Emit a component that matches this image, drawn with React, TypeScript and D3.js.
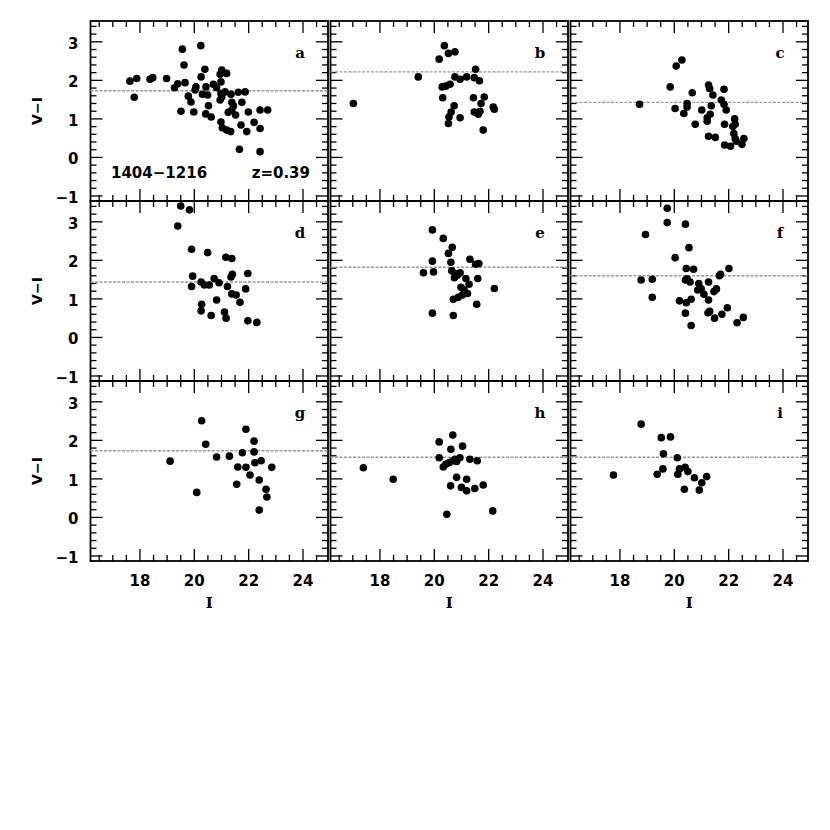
import * as d3 from "d3";

// I, V-I pairs
const ptsA: [number, number][] = [
  [19.56, 2.81], [20.24, 2.9], [19.62, 2.4], [20.39, 2.29], [20.25, 2.09], [21.01, 2.27],
  [21.19, 2.18], [20.95, 2.16], [17.63, 1.98], [17.88, 2.05], [18.37, 2.03], [18.47, 2.07],
  [18.98, 2.05], [19.39, 1.91], [19.27, 1.81], [19.66, 1.94], [17.79, 1.56], [20.03, 1.75],
  [20.06, 1.83], [20.43, 1.83], [20.7, 1.9], [20.82, 1.81], [20.98, 1.96], [20.3, 1.64],
  [20.49, 1.62], [20.98, 1.66], [21.13, 1.7], [21.35, 1.64], [21.62, 1.69], [21.87, 1.7],
  [19.78, 1.59], [19.88, 1.44], [20.95, 1.49], [21.01, 1.57], [21.38, 1.43], [21.44, 1.34],
  [21.75, 1.43], [20.52, 1.34], [21.38, 1.23], [21.25, 1.17], [21.52, 1.1], [21.99, 1.18],
  [22.42, 1.23], [22.7, 1.23], [19.51, 1.2], [19.98, 1.18], [20.42, 1.13], [20.62, 1.05],
  [20.98, 0.92], [21.03, 0.77], [21.19, 0.71], [21.34, 0.67], [21.72, 0.84], [21.93, 0.67],
  [22.2, 0.91], [22.42, 0.75], [21.66, 0.21], [22.42, 0.15],
];
const ptsB: [number, number][] = [
  [17.02, 1.4], [19.41, 2.09], [20.37, 2.9], [20.52, 2.7], [20.76, 2.74], [20.18, 2.55],
  [21.52, 2.29], [20.76, 2.09], [20.95, 2.03], [21.19, 2.09], [21.47, 2.07], [21.66, 1.99],
  [20.29, 1.83], [20.42, 1.85], [20.58, 1.9], [20.31, 1.55], [21.44, 1.55], [21.84, 1.57],
  [21.72, 1.4], [20.73, 1.34], [20.62, 1.18], [20.54, 1.05], [20.52, 0.88], [20.95, 1.03],
  [21.47, 1.18], [21.62, 1.12], [21.68, 1.2], [22.17, 1.31], [22.21, 1.25], [21.8, 0.71],
];
const ptsC: [number, number][] = [
  [18.72, 1.38], [20.28, 2.53], [20.07, 2.37], [19.85, 1.83], [20.66, 1.68], [21.26, 1.88],
  [21.3, 1.79], [21.42, 1.62], [21.83, 1.77], [21.73, 1.49], [21.83, 1.38], [21.91, 1.23],
  [20.03, 1.27], [20.47, 1.4], [20.47, 1.31], [20.35, 1.14], [21.01, 1.23], [21.36, 1.34],
  [21.32, 1.12], [21.21, 1.03], [21.21, 0.94], [20.77, 0.86], [21.85, 0.86], [22.22, 1.0],
  [22.24, 0.86], [22.15, 0.8], [22.19, 0.62], [21.26, 0.55], [21.51, 0.52], [22.24, 0.49],
  [22.56, 0.49], [21.85, 0.32], [22.07, 0.29], [22.49, 0.34], [22.28, 0.42],
];
const ptsD: [number, number][] = [
  [19.5, 3.41], [19.82, 3.31], [19.39, 2.89], [19.9, 2.29], [20.49, 2.2], [21.16, 2.08],
  [21.38, 2.05], [21.97, 1.66], [21.4, 1.64], [21.35, 1.57], [19.94, 1.59], [20.25, 1.44],
  [20.37, 1.36], [20.55, 1.36], [20.73, 1.53], [20.91, 1.42], [21.22, 1.32], [19.9, 1.32],
  [21.89, 1.26], [21.38, 1.13], [21.54, 1.1], [21.68, 0.91], [20.82, 0.97], [20.27, 0.86],
  [20.25, 0.69], [20.62, 0.57], [21.11, 0.66], [21.17, 0.5], [21.97, 0.43], [22.3, 0.39],
];
const ptsE: [number, number][] = [
  [19.93, 2.79], [20.33, 2.57], [20.66, 2.34], [20.52, 2.18], [19.93, 1.98], [20.61, 1.95],
  [21.31, 2.03], [21.52, 1.9], [21.64, 1.92], [19.6, 1.68], [19.97, 1.7], [20.64, 1.73],
  [20.76, 1.66], [20.95, 1.68], [20.74, 1.55], [20.86, 1.62], [21.16, 1.53], [21.6, 1.53],
  [21.28, 1.38], [20.98, 1.3], [21.1, 1.23], [21.22, 1.14], [22.21, 1.27], [20.7, 0.99],
  [20.88, 1.04], [21.03, 1.1], [21.56, 0.86], [19.93, 0.63], [20.7, 0.57],
];
const ptsF: [number, number][] = [
  [19.74, 3.35], [19.74, 2.98], [20.41, 2.94], [18.94, 2.67], [20.54, 2.33], [20.03, 2.07],
  [20.44, 1.79], [20.71, 1.77], [22.01, 1.79], [21.7, 1.64], [21.66, 1.6], [18.78, 1.49],
  [19.19, 1.51], [20.41, 1.49], [20.47, 1.52], [20.58, 1.44], [20.9, 1.4], [21.26, 1.44],
  [20.86, 1.23], [20.99, 1.26], [21.09, 1.12], [21.46, 1.19], [21.55, 1.26], [19.19, 1.04],
  [20.19, 0.95], [20.44, 0.9], [20.62, 0.99], [21.26, 0.97], [21.3, 0.68], [21.24, 0.64],
  [21.95, 0.77], [21.75, 0.6], [21.48, 0.5], [20.41, 0.63], [20.62, 0.31], [22.31, 0.38],
  [22.54, 0.52],
];
const ptsG: [number, number][] = [
  [20.27, 2.51], [21.9, 2.29], [22.2, 1.98], [20.42, 1.9], [21.77, 1.68], [22.2, 1.7],
  [19.11, 1.46], [20.82, 1.57], [21.29, 1.59], [22.23, 1.42], [22.46, 1.47], [21.6, 1.31],
  [21.9, 1.3], [22.85, 1.3], [22.05, 1.1], [22.39, 0.97], [21.56, 0.86], [22.64, 0.73],
  [22.67, 0.53], [20.09, 0.65], [22.39, 0.19],
];
const ptsH: [number, number][] = [
  [17.39, 1.29], [18.49, 0.99], [20.68, 2.14], [20.18, 1.96], [21.04, 1.85], [20.61, 1.77],
  [20.18, 1.55], [21.31, 1.51], [21.58, 1.47], [20.94, 1.55], [20.76, 1.51], [20.68, 1.47],
  [20.82, 1.45], [20.54, 1.42], [20.42, 1.38], [20.33, 1.31], [20.82, 1.04], [21.19, 0.99],
  [20.6, 0.82], [21.0, 0.78], [21.19, 0.69], [21.49, 0.75], [21.8, 0.84], [20.46, 0.08],
  [22.15, 0.17],
];
const ptsI: [number, number][] = [
  [17.76, 1.1], [18.78, 2.42], [19.52, 2.07], [19.86, 2.09], [19.6, 1.65], [20.11, 1.55],
  [19.58, 1.26], [19.37, 1.12], [20.19, 1.26], [20.4, 1.3], [20.5, 1.19], [20.13, 1.12],
  [20.74, 1.03], [21.19, 1.06], [21.01, 0.9], [20.37, 0.73], [20.92, 0.71],
];

const panelPoints = [ptsA, ptsB, ptsC, ptsD, ptsE, ptsF, ptsG, ptsH, ptsI];
const meanLines = [1.73, 2.22, 1.43, 1.44, 1.82, 1.6, 1.73, 1.56, 1.56];
const panelLetters = ["a", "b", "c", "d", "e", "f", "g", "h", "i"];
const xTickLabels = [18, 20, 22, 24];
const yTickLabels = [3, 2, 1, 0, -1];
const xDomain: [number, number] = [16.18, 24.92];
const yDomain: [number, number] = [-1.13, 3.54];

const colLefts = [90.5, 330.5, 570.5];
const rowTops = [21, 201, 381];
const panelW = 237.5;
const panelH = 180;

const sansFont = "'DejaVu Sans', sans-serif";
const serifFont = "'DejaVu Serif', serif";

function Panel({ idx }: { idx: number }) {
  const col = idx % 3;
  const row = Math.floor(idx / 3);
  const x0 = colLefts[col];
  const y0 = rowTops[row];
  const x = d3.scaleLinear().domain(xDomain).range([x0, x0 + panelW]);
  const y = d3.scaleLinear().domain(yDomain).range([y0 + panelH, y0]);

  const xTicks = d3.range(16.5, 24.9, 0.5);
  const yTicks = d3.range(-1, 3.55, 0.2).map((v) => Math.round(v * 10) / 10);
  const major = 12;
  const minor = 6;

  return (
    <g>
      {/* x ticks on top and bottom */}
      {xTicks.map((t) => {
        const len = t % 2 === 0 ? major : minor;
        const px = x(t);
        return (
          <g key={"x" + t} stroke="#000" strokeWidth={1.3}>
            <line x1={px} x2={px} y1={y0 + panelH} y2={y0 + panelH - len} />
            <line x1={px} x2={px} y1={y0} y2={y0 + len} />
          </g>
        );
      })}
      {/* y ticks left and right */}
      {yTicks.map((t) => {
        const len = Number.isInteger(t) ? major : minor;
        const py = y(t);
        return (
          <g key={"y" + t} stroke="#000" strokeWidth={1.3}>
            <line x1={x0} x2={x0 + len} y1={py} y2={py} />
            <line x1={x0 + panelW} x2={x0 + panelW - len} y1={py} y2={py} />
          </g>
        );
      })}
      <rect x={x0} y={y0} width={panelW} height={panelH} fill="none" stroke="#000" strokeWidth={1.8} />
      <line
        x1={x0}
        x2={x0 + panelW}
        y1={y(meanLines[idx])}
        y2={y(meanLines[idx])}
        stroke="#999"
        strokeWidth={1.4}
        strokeDasharray="3 1.5"
      />
      {panelPoints[idx].map(([vi, c], k) => (
        <circle key={k} cx={x(vi)} cy={y(c)} r={3.8} fill="#000" />
      ))}
      <text
        x={x0 + panelW - 28}
        y={y0 + 37}
        fontFamily={serifFont}
        fontWeight="bold"
        fontSize={15}
        textAnchor="middle"
      >
        {panelLetters[idx]}
      </text>
      {col === 0 &&
        yTickLabels.map((t) => (
          <text
            key={"yl" + t}
            x={x0 - 12}
            y={y(t) + 2}
            dominantBaseline="central"
            textAnchor="end"
            fontFamily={sansFont}
            fontWeight="bold"
            fontSize={15}
          >
            {t < 0 ? "\u2212" + Math.abs(t) : t}
          </text>
        ))}
      {col === 0 && (
        <text
          transform={`translate(${x0 - 54},${y0 + panelH / 2}) rotate(-90)`}
          textAnchor="middle"
          dominantBaseline="central"
          fontFamily={sansFont}
          fontWeight="bold"
          fontSize={14}
        >
          V{"\u2212"}I
        </text>
      )}
      {row === 2 &&
        xTickLabels.map((t) => (
          <text
            key={"xl" + t}
            x={x(t)}
            y={y0 + panelH + 25}
            textAnchor="middle"
            fontFamily={sansFont}
            fontWeight="bold"
            fontSize={15}
          >
            {t}
          </text>
        ))}
      {row === 2 && (
        <text
          x={x0 + panelW / 2}
          y={y0 + panelH + 47}
          textAnchor="middle"
          fontFamily={serifFont}
          fontWeight="bold"
          fontSize={15}
        >
          I
        </text>
      )}
    </g>
  );
}

export default function App() {
  return (
    <svg
      width={830}
      height={830}
      style={{ position: "absolute", left: 0, top: 0, background: "#fff" }}
    >
      <rect width={830} height={830} fill="#fff" />
      {panelPoints.map((_, i) => (
        <Panel key={i} idx={i} />
      ))}
      <text x={111} y={178} fontFamily={sansFont} fontWeight="bold" fontSize={15}>
        1404{"\u2212"}1216
      </text>
      <text x={310} y={178} textAnchor="end" fontFamily={sansFont} fontWeight="bold" fontSize={15}>
        z=0.39
      </text>
    </svg>
  );
}
